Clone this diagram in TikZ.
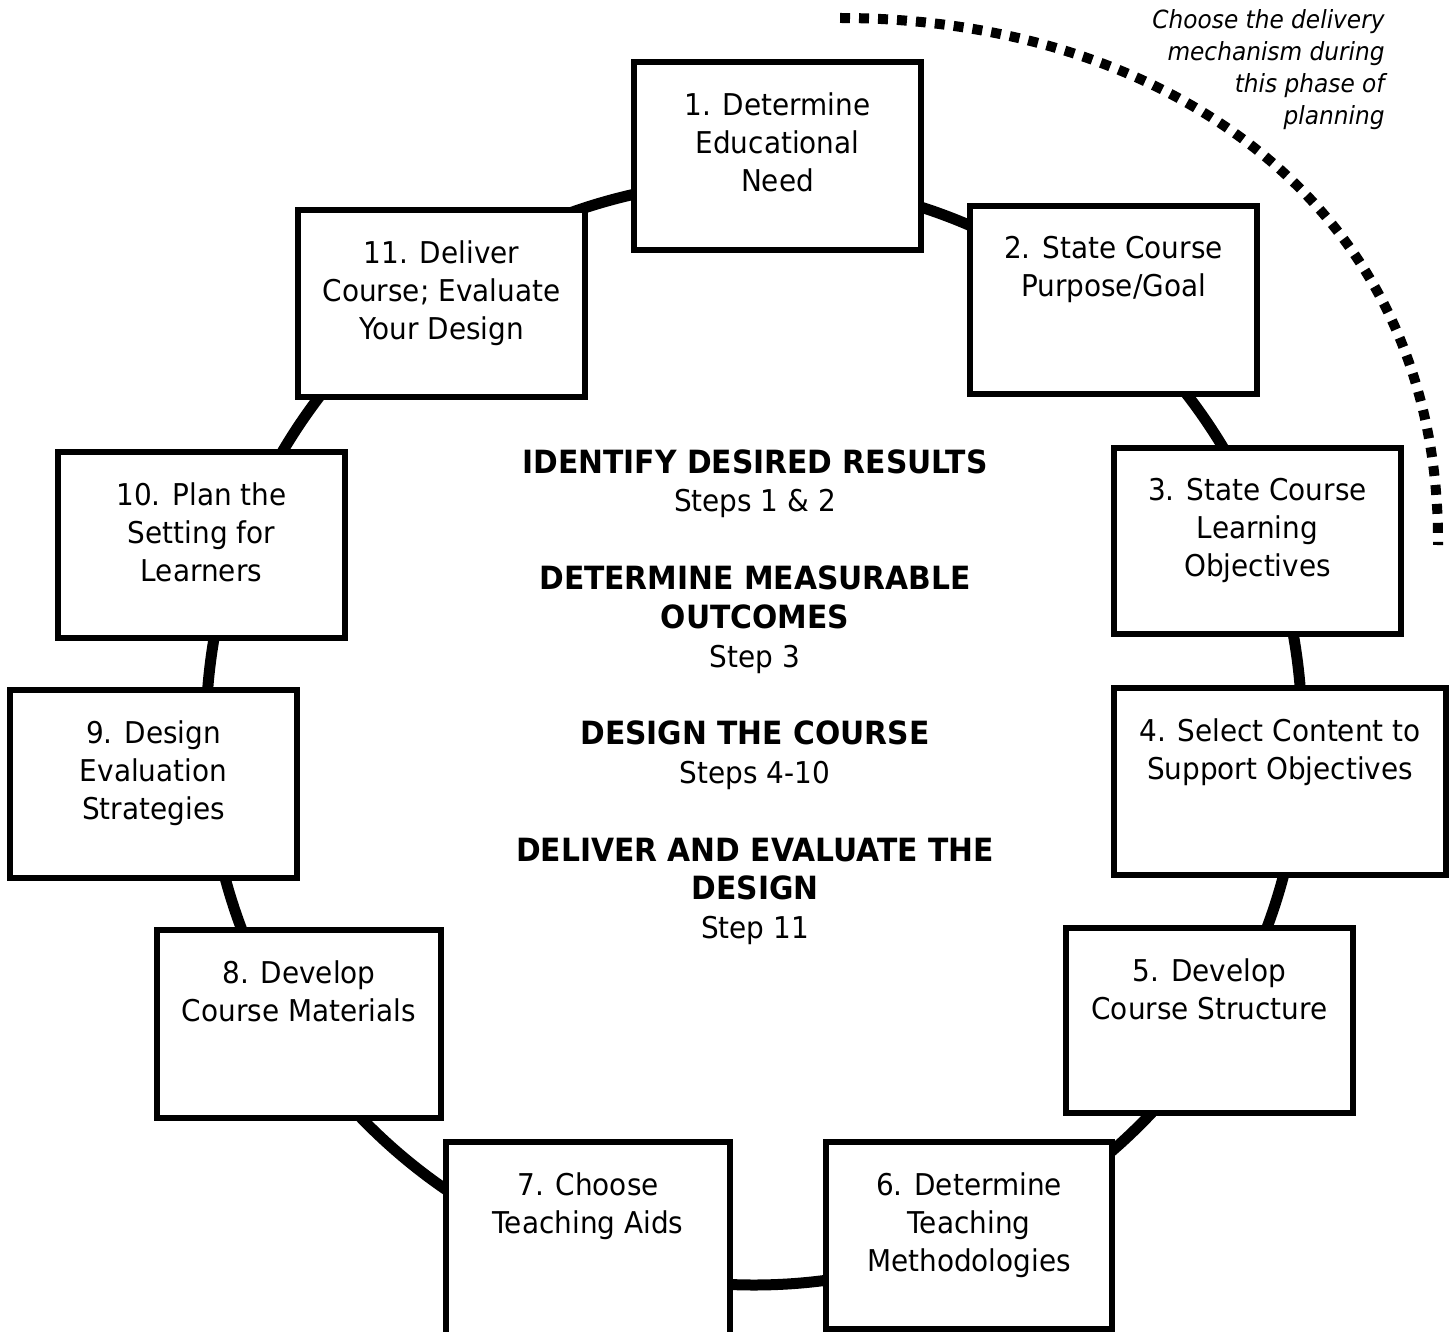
\documentclass[tikz,border=0pt]{standalone}
\usepackage{fontspec}
\setmainfont{DejaVu Sans}[FakeStretch=0.93]
\usetikzlibrary{fit,calc}
\newcommand\hd[1]{{\fontsize{16}{19.4}\selectfont\bfseries #1}}
\tikzset{
  stepbox/.style={draw, line width=3pt, fill=white, inner sep=0pt, outer sep=0pt},
  steptext/.style={anchor=north, align=center, inner sep=0pt,
    font=\fontsize{15}{19}\selectfont, execute at begin node={\rule{0pt}{12pt}}},
  midtext/.style={anchor=north, align=center, inner sep=0pt,
    font=\fontsize{15}{19.4}\selectfont, execute at begin node={\rule{0pt}{13pt}}},
  notetext/.style={anchor=north east, align=right, inner sep=0pt,
    font=\fontsize{12.5}{16}\selectfont\itshape, execute at begin node={\rule{0pt}{10pt}}},
  ring/.style={line width=5.5pt},
  dotarc/.style={line width=5pt, dash pattern=on 5pt off 4.5pt},
}
\begin{document}
\begin{tikzpicture}[x=0.5pt, y=-0.5pt]
\useasboundingbox (0,0) rectangle (1451,1332);
\fill[white] (0,0) rectangle (1451,1332);
\clip (0,0) rectangle (1451,1332);

% cycle ring
\coordinate (c) at (754,733);
\draw[ring] (c) ellipse [x radius=274pt, y radius=276pt];

% boxes
\node[stepbox, fit={(634,62) (921,250)}] (b1) {};
\node[stepbox, fit={(970,206) (1257,394)}] (b2) {};
\node[stepbox, fit={(1114,448) (1401,634)}] (b3) {};
\node[stepbox, fit={(1114,688) (1446,875)}] (b4) {};
\node[stepbox, fit={(1066,928) (1353,1113)}] (b5) {};
\node[stepbox, fit={(826,1142) (1112,1329)}] (b6) {};
\node[stepbox, fit={(446,1142) (730,1380)}] (b7) {};
\node[stepbox, fit={(157,930) (441,1118)}] (b8) {};
\node[stepbox, fit={(10,690) (297,878)}] (b9) {};
\node[stepbox, fit={(58,452) (345,638)}] (b10) {};
\node[stepbox, fit={(298,210) (585,397)}] (b11) {};

% box texts
\node[steptext] (t1) at ($(b1.north)+(0,30)$) {1. Determine\\Educational\\Need};
\node[steptext] (t2) at ($(b2.north)+(0,30)$) {2. State Course\\Purpose/Goal};
\node[steptext] (t3) at ($(b3.north)+(0,30)$) {3. State Course\\Learning\\Objectives};
\node[steptext] (t4) at ($(b4.north)+(0,30)$) {4. Select Content to\\Support Objectives};
\node[steptext] (t5) at ($(b5.north)+(0,30)$) {5. Develop\\Course Structure};
\node[steptext] (t6) at ($(b6.north)+(0,30)$) {6. Determine\\Teaching\\Methodologies};
\node[steptext] (t7) at ($(b7.north)+(0,30)$) {7. Choose\\Teaching Aids};
\node[steptext] (t8) at ($(b8.north)+(0,30)$) {8. Develop\\Course Materials};
\node[steptext] (t9) at ($(b9.north)+(0,30)$) {9. Design\\Evaluation\\Strategies};
\node[steptext] (t10) at ($(b10.north)+(0,30)$) {10. Plan the\\Setting for\\Learners};
\node[steptext] (t11) at ($(b11.north)+(0,30)$) {11. Deliver\\Course; Evaluate\\Your Design};

% centre text
\node[midtext] (mid) at (755,449) {\hd{IDENTIFY DESIRED RESULTS}\\Steps 1 \& 2\\[19.4pt]
  \hd{DETERMINE MEASURABLE}\\\hd{OUTCOMES}\\Step 3\\[19.4pt]
  \hd{DESIGN THE COURSE}\\Steps 4-10\\[19.4pt]
  \hd{DELIVER AND EVALUATE THE}\\\hd{DESIGN}\\Step 11};

% dotted arc and note
\coordinate (d0) at (840,18);
\coordinate (d1) at (1438,545);
\draw[dotarc] (d0) .. controls (1160,18) and (1440,200) .. (d1);
\node[notetext] (note) at (1385,9) {Choose the delivery\\mechanism during\\this phase of\\planning};
\end{tikzpicture}
\end{document}
